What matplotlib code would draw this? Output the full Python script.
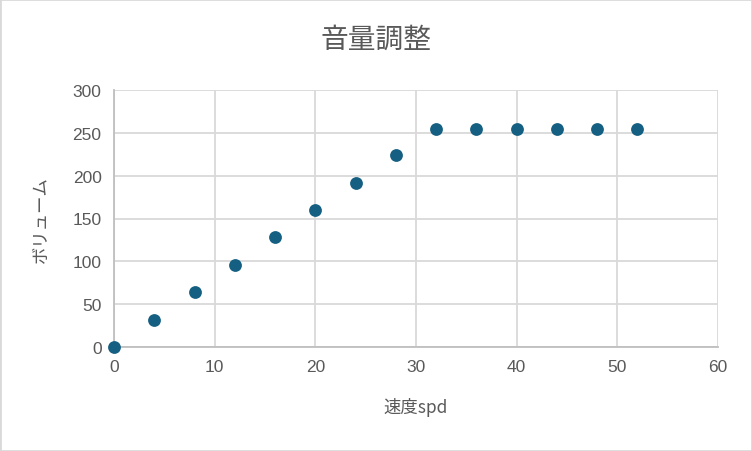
import numpy as np
import matplotlib
matplotlib.use("Agg")
from matplotlib import pyplot as plt
from matplotlib.patches import Rectangle

plt.rcParams['font.family'] = ['Noto Sans CJK JP', 'DejaVu Sans']

speed = [0, 4, 8, 12, 16, 20, 24, 28, 32, 36, 40, 44, 48, 52]
volume = [0, 32, 64, 96, 128, 160, 192, 224, 255, 255, 255, 255, 255, 255]
title = "音量調整"
xlabel = "速度spd"
ylabel = "ボリューム"

text_c = "#595959"
grid_c = "#d9d9d9"

fig = plt.figure(figsize=(7.52, 4.52), dpi=100)
ax = fig.add_axes([114/752, 1-348/452, (718-114)/752, (348-91)/452])

ax.scatter(speed, volume, s=85, color="#156082", zorder=3, clip_on=False, linewidths=0)

ax.set_xlim(0, 60)
ax.set_ylim(0, 300)
ax.set_xticks(np.arange(0, 61, 10))
ax.set_yticks(np.arange(0, 301, 50))
ax.grid(True, color=grid_c, linewidth=1.3)
ax.set_axisbelow(True)
for side in ["top", "right"]:
    ax.spines[side].set_visible(False)
ax.spines["left"].set_color("#bfbfbf")
ax.spines["bottom"].set_color("#bfbfbf")
ax.spines["left"].set_linewidth(1.3)
ax.spines["bottom"].set_linewidth(1.3)
ax.tick_params(length=0, colors=text_c, pad=9)
for lab in ax.get_xticklabels() + ax.get_yticklabels():
    lab.set_fontfamily(['Liberation Sans', 'DejaVu Sans'])
    lab.set_fontsize(12.5)

fig.text(0.5, 1 - 40/452, title, fontsize=20, color=text_c, ha="center", va="center")
ax.set_xlabel(xlabel, fontsize=12.5, color=text_c, labelpad=16)
ax.set_ylabel(ylabel, fontsize=12.5, color=text_c, labelpad=16)

fig.patches.append(Rectangle((0, 0), 1, 1, transform=fig.transFigure,
                             fill=False, edgecolor=grid_c, linewidth=2))

fig.savefig("out.png", dpi=100)
